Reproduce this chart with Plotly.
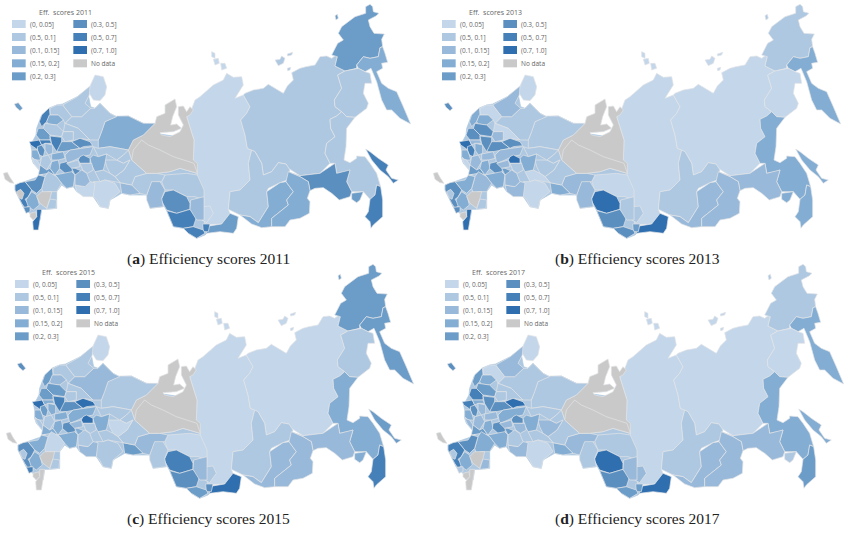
import plotly.graph_objects as go

# Score class of each region: 0..7 = legend bins, 8 = no data
BIN_LABELS = ["(0, 0.05]", "(0.5, 0.1]", "(0.1, 0.15]", "(0.15, 0.2]", "(0.2, 0.3]",
              "(0.3, 0.5]", "(0.5, 0.7]", "(0.7, 1.0]", "No data"]
BIN_COLORS = ["#c3d6ea", "#aec8e1", "#98b9d9", "#83add3", "#6c9cc8", "#5a8fc0", "#4580b9", "#2f6fb0", "#c9c9c9"]
YEARS = [2011, 2013, 2015, 2017]
PANEL_LETTERS = ["a", "b", "c", "d"]

# Outlines (map units)
OUTLINES = {
"base": [(45,555),(75,545),(105,535),(130,525),(118,510),(100,490),(95,475),(95,450),(92,435),(108,405),(110,385),(118,365),(125,345),(150,323),(170,315),(188,312),(232,290),(268,262),(265,285),(272,320),(285,325),(300,310),(330,340),(350,350),(385,348),(430,370),(465,372),(465,400),(600,420),(612,660),(630,690),(615,705),(590,715),(565,700),(550,685),(520,680),(500,632),(483,600),(490,620),(450,625),(440,585),(390,585),(365,580),(330,600),(325,625),(300,620),(280,590),(230,575),(220,560),(200,565),(185,555),(170,575),(170,625),(140,628),(125,628),(120,660),(100,660),(90,640),(70,622),(45,570)],
"krasnoyarsk": [(585,300),(600,290),(640,255),(670,240),(680,220),(700,232),(725,230),(730,255),(705,295),(730,285),(750,320),(740,340),(722,360),(735,405),(742,445),(755,450),(745,490),(750,540),(720,570),(690,575),(685,628),(690,640),(665,672),(615,674),(610,650),(612,600),(585,570),(592,520),(580,480),(582,420),(560,350),(570,340)],
"taimyr_a": [(635,155),(645,160),(645,175),(635,170)],
"taimyr_b": [(640,178),(655,175),(658,190),(645,195)],
"taimyr_c": [(662,190),(675,190),(680,205),(665,210)],
"yakutia": [(735,280),(760,270),(790,265),(805,253),(825,265),(850,280),(862,258),(880,240),(875,218),(900,205),(918,200),(945,195),(960,170),(980,168),(995,175),(1008,165),(1012,170),(1005,198),(1035,213),(1013,225),(1025,265),(1003,300),(1005,320),(1025,335),(1010,348),(990,358),(992,385),(1005,410),(980,430),(975,460),(990,490),(960,520),(900,527),(865,505),(858,492),(835,488),(815,515),(790,525),(785,490),(765,455),(742,445),(735,405),(722,360),(740,340),(750,320),(730,285)],
"sib_isl_a": [(825,180),(840,178),(845,168),(855,175),(850,190),(835,197)],
"sib_isl_b": [(862,162),(878,157),(875,165),(863,168)],
"sib_isl_c": [(862,205),(872,202),(870,210),(863,212)],
"chukotka": [(995,165),(1013,130),(1030,120),(1015,100),(1025,80),(1065,50),(1097,40),(1097,20),(1110,13),(1118,20),(1120,35),(1137,40),(1128,48),(1105,60),(1110,80),(1122,100),(1153,102),(1145,118),(1148,140),(1140,143),(1135,170),(1110,175),(1090,170),(1070,195),(1070,205),(1035,213),(1005,198),(1012,170)],
"wrangel": [(1005,47),(1012,43),(1015,55),(1008,60)],
"kamchatka": [(1070,195),(1090,170),(1110,175),(1135,170),(1140,143),(1148,140),(1155,160),(1163,187),(1145,190),(1148,205),(1130,215),(1145,250),(1165,265),(1190,275),(1210,320),(1232,372),(1200,355),(1175,330),(1160,330),(1145,300),(1130,245),(1113,205),(1095,215),(1075,205)],
"magadan": [(1035,213),(1070,205),(1075,205),(1095,215),(1110,220),(1115,250),(1095,250),(1090,280),(1105,310),(1100,325),(1080,340),(1065,352),(1040,350),(1025,335),(1005,320),(1003,300),(1025,265),(1013,225)],
"khabarovsk": [(1025,335),(1040,350),(1065,352),(1040,385),(1038,440),(1032,480),(1050,488),(1070,475),(1070,468),(1095,470),(1110,490),(1130,520),(1142,560),(1130,555),(1125,585),(1110,598),(1090,575),(1055,575),(1040,545),(1050,510),(1035,515),(1010,520),(1005,490),(990,490),(975,460),(980,430),(1005,410),(992,385),(990,358),(1010,348)],
"amur": [(865,515),(900,527),(960,520),(1005,490),(1010,520),(1035,515),(1050,510),(1040,545),(1055,575),(1050,590),(1018,600),(995,580),(970,563),(945,565),(930,572),(925,545),(900,530)],
"jewish": [(1055,580),(1090,575),(1080,600),(1070,608),(1055,598)],
"primorye": [(1110,598),(1125,585),(1130,555),(1142,560),(1148,600),(1148,650),(1120,675),(1113,685),(1110,665),(1095,650),(1105,635)],
"sakhalin": [(1097,447),(1110,455),(1135,475),(1165,495),(1158,510),(1175,535),(1195,540),(1180,550),(1165,530),(1140,510),(1115,480)],
"irkutsk": [(690,575),(720,570),(750,540),(745,490),(755,450),(765,455),(785,490),(790,525),(815,515),(835,488),(858,492),(865,505),(870,510),(862,540),(840,548),(805,565),(800,575),(805,620),(775,668),(750,650),(720,645),(685,628)],
"buryatia": [(800,575),(840,548),(858,545),(880,575),(860,600),(865,615),(815,655),(815,680),(785,683),(755,672),(720,645),(750,650),(775,668),(805,620)],
"zabaykalsky": [(858,545),(862,530),(865,515),(900,530),(925,545),(930,572),(922,595),(930,605),(928,640),(900,655),(870,660),(855,680),(815,680),(815,655),(865,615),(860,600),(880,575)],
"tuva": [(615,680),(665,672),(690,640),(715,650),(710,685),(700,700),(660,695),(620,700)],
"khakassia": [(610,620),(630,618),(640,640),(620,668),(605,660)],
"altai_rep": [(608,672),(630,672),(625,695),(610,695)],
"grey_north": [(465,370),(470,350),(495,340),(495,315),(525,297),(530,320),(518,350),(512,375),(530,372),(545,385),(520,395),(480,398),(485,405),(510,410),(540,395),(550,375),(535,345),(535,320),(550,318),(560,335),(570,320),(580,330),(570,345),(560,350),(582,420),(580,480),(592,490),(592,520),(540,505),(510,515),(470,520),(440,520),(395,480),(385,450),(400,420),(430,405)],
"kemerovo": [(495,525),(560,520),(592,525),(612,570),(612,600),(585,590),(560,590),(520,570),(495,570),(485,545)],
"novosib": [(520,570),(560,590),(570,610),(570,628),(530,640),(500,630),(483,600),(495,575)],
"altai_krai": [(500,632),(530,640),(570,628),(590,650),(580,680),(550,685),(520,680)],
"altai_south": [(550,685),(580,680),(610,690),(615,700),(590,715),(565,700)],
"krasn_south": [(572,600),(612,590),(612,660),(590,660),(570,628)],
"omsk": [(440,585),(455,540),(480,545),(495,570),(485,595),(490,620),(450,625),(440,600)],
"tyumen_s": [(395,555),(405,530),(440,520),(470,520),(495,525),(485,545),(455,545),(440,585),(420,580)],
"kurgan": [(360,548),(395,555),(420,580),(390,585),(365,580)],
"sverdlovsk": [(350,480),(370,465),(385,450),(395,480),(440,520),(405,530),(395,555),(360,548),(345,530),(372,510),(390,480),(370,490)],
"chelyabinsk": [(350,480),(370,490),(390,480),(372,510),(345,530),(330,520),(320,500),(315,480)],
"bashk_e": [(310,510),(330,520),(345,530),(360,548),(315,540),(300,545),(285,515)],
"orenburg": [(280,545),(300,545),(315,540),(345,550),(360,575),(330,600),(325,625),(300,620),(290,600),(280,590)],
"saratov": [(225,555),(255,560),(270,545),(285,548),(280,590),(250,590),(230,575)],
"komi": [(315,365),(350,348),(385,348),(430,370),(465,370),(430,405),(400,420),(385,450),(330,440),(295,445),(295,420),(305,395)],
"arkhangelsk": [(215,350),(245,350),(272,325),(285,325),(300,310),(330,340),(350,350),(315,365),(305,395),(295,420),(270,420),(235,385),(195,370)],
"kola": [(270,258),(285,225),(310,230),(320,260),(315,285),(300,302),(280,300),(265,275)],
"karelia": [(188,315),(232,290),(270,258),(268,285),(255,310),(272,325),(245,350),(215,350)],
"karelia_s": [(170,315),(188,315),(215,350),(195,370),(190,360),(175,345),(150,345),(150,325)],
"perm": [(295,445),(330,440),(385,450),(370,465),(350,480),(320,462),(295,470),(280,440)],
"kirov": [(270,475),(280,465),(295,470),(320,462),(315,490),(310,510),(285,515),(275,495)],
"vologda": [(195,370),(235,385),(270,420),(240,415),(215,425),(220,395),(190,395)],
"kaliningrad": [(43,312),(55,308),(68,325),(60,332),(48,322)],
"leningrad": [(118,365),(125,345),(148,323),(150,345),(140,365),(125,380)],
"novgorod": [(148,345),(175,345),(190,360),(170,375),(145,372),(140,365)],
"pskov": [(135,370),(170,375),(190,395),(185,410),(150,405),(130,385)],
"yaroslavl": [(190,395),(220,395),(220,420),(195,425),(185,410)],
"tver": [(115,385),(130,385),(150,405),(150,420),(120,420),(108,405)],
"smolensk": [(88,425),(118,420),(125,435),(110,447),(92,435)],
"kaluga": [(118,420),(150,420),(155,430),(135,430),(125,435)],
"moscow": [(150,408),(185,412),(185,435),(170,455),(155,432)],
"ivanovo": [(185,425),(215,425),(240,445),(210,450),(190,455),(170,455)],
"nizhny": [(215,425),(240,415),(270,425),(278,437),(250,440),(240,445)],
"chuvash": [(195,465),(210,450),(245,445),(280,440),(270,465),(245,470),(225,480),(200,490)],
"bryansk": [(112,440),(125,435),(135,450),(130,470),(118,465),(113,452)],
"orel": [(95,450),(112,450),(118,465),(122,480),(105,480),(95,470)],
"kursk": [(95,475),(110,480),(120,495),(118,510),(105,495)],
"voronezh": [(125,470),(145,465),(155,485),(140,510),(120,495)],
"belgorod": [(120,495),(140,510),(150,505),(165,525),(145,520),(115,525),(118,510)],
"tula": [(135,430),(158,435),(158,460),(145,465),(135,450)],
"ryazan": [(155,462),(190,455),(195,475),(175,480),(155,480)],
"tambov": [(155,485),(175,480),(180,505),(165,525),(150,505)],
"penza": [(180,490),(200,485),(218,505),(215,520),(195,520),(178,505)],
"mordovia": [(200,490),(235,480),(240,500),(215,505)],
"ulyanovsk": [(215,505),(225,505),(250,515),(240,525),(225,525)],
"tatarstan": [(240,470),(250,465),(270,475),(270,490),(240,490),(235,480)],
"samara": [(240,490),(275,490),(280,510),(262,520),(248,510)],
"lipetsk": [(165,525),(195,520),(215,515),(225,525),(220,560),(200,565),(180,545),(170,530)],
"bashkir": [(225,525),(245,510),(260,520),(270,545),(255,560),(225,555)],
"volgograd": [(125,565),(135,530),(145,515),(170,530),(185,550),(170,575),(145,575),(130,580)],
"rostov": [(75,545),(105,540),(115,525),(135,530),(125,565),(110,580),(95,570)],
"krasnodar": [(45,555),(60,548),(75,545),(95,570),(85,590),(75,598),(90,615),(75,625),(65,610),(55,590),(45,570)],
"adygea": [(50,575),(62,568),(72,580),(66,598),(56,592)],
"stavropol": [(78,600),(85,590),(95,575),(110,585),(118,615),(100,630),(85,620)],
"kalmykia": [(110,590),(125,575),(155,575),(150,595),(140,625),(120,610)],
"astrakhan": [(150,597),(170,600),(168,625),(140,628)],
"dagestan": [(110,628),(125,628),(120,660),(115,690),(100,690),(98,665),(110,650)],
"chechnya": [(90,640),(108,635),(110,650),(100,660),(90,650)],
"ossetia": [(70,622),(90,620),(90,635),(78,640)],
"crimea": [(10,520),(22,517),(30,532),(42,550),(30,548),(15,538)],
"khmao": [(425,420),(445,435),(480,450),(520,470),(582,490),(592,520),(540,505),(510,515),(470,520),(440,520),(395,480),(400,450)],
}

# Bin index per region, same order as OUTLINES (one row per eight regions)
SCORE_2011 = [1,
 0,0,0,0,1,1,1,1,
 4,4,3,1,1,5,4,6,
 6,1,3,3,4,0,6,8,
 1,5,6,6,2,2,1,2,
 1,1,1,0,0,3,1,0,
 1,1,1,3,1,4,6,3,
 1,1,4,7,6,6,4,5,
 2,5,3,0,1,4,2,3,
 3,5,1,5,5,1,3,2,
 1,5,6,8,3,8,1,7,
 8,5,8,8]
SCORE_2013 = [1,
 0,0,0,0,0,0,0,0,
 1,1,3,0,3,2,3,3,
 3,1,2,2,7,1,4,8,
 0,7,5,5,1,2,2,3,
 1,1,0,0,2,1,1,0,
 2,0,1,3,0,5,3,3,
 5,2,5,7,2,5,5,5,
 2,6,3,0,2,4,3,2,
 3,5,2,4,7,1,3,2,
 2,3,5,1,3,8,1,7,
 8,5,8,8]
SCORE_2015 = [1,
 0,0,0,0,0,0,0,0,
 4,4,4,1,3,2,3,6,
 4,1,2,2,7,1,5,8,
 0,6,5,4,2,1,2,4,
 1,0,1,1,2,1,2,0,
 1,1,1,3,1,5,4,2,
 4,1,4,7,3,6,5,7,
 3,4,3,1,1,3,3,3,
 3,5,2,3,7,1,3,1,
 0,3,5,1,3,8,1,8,
 8,6,8,8]
SCORE_2017 = [1,
 0,0,0,0,0,0,0,0,
 1,1,3,0,3,2,1,4,
 3,1,2,2,7,2,4,8,
 1,7,5,4,2,1,2,3,
 1,2,1,0,2,1,1,0,
 2,0,1,3,1,5,4,3,
 4,1,6,6,3,5,5,7,
 3,5,3,2,2,4,2,2,
 3,5,2,4,5,2,3,1,
 3,5,6,1,3,8,2,8,
 8,1,8,8]

ORIGINS = [(0, 0), (430, 0), (3, 260), (433, 260)]
LEGEND_ROWS = [72, 111, 150, 190, 229]
PANEL_W, PANEL_H = 420, 255
FIG_W, FIG_H = 854, 535

fig = go.Figure()
names = list(OUTLINES)
series = [SCORE_2011, SCORE_2013, SCORE_2015, SCORE_2017]
for s in series:
    assert len(s) == len(names), (len(s), len(names))
shapes, annotations = [], []

for p, (ox, oy) in enumerate(ORIGINS):
    ax = "" if p == 0 else str(p + 1)
    for i, name in enumerate(names):
        pts = OUTLINES[name] + [OUTLINES[name][0]]
        fillc = BIN_COLORS[series[p][i]]
        fig.add_trace(go.Scatter(
            x=[c[0] for c in pts], y=[c[1] for c in pts], mode="lines", fill="toself",
            fillcolor=fillc, line=dict(color=fillc if name == "base" else "#e2e4e6", width=0.7),
            hoverinfo="skip", showlegend=False, xaxis="x" + ax, yaxis="y" + ax))
    fig.layout["xaxis" + ax] = dict(domain=[ox / FIG_W, (ox + PANEL_W) / FIG_W], range=[0, PANEL_W * 3],
                                    visible=False, fixedrange=True)
    fig.layout["yaxis" + ax] = dict(domain=[1 - (oy + PANEL_H) / FIG_H, 1 - oy / FIG_H], range=[PANEL_H * 3, 0],
                                    visible=False, fixedrange=True)
    annotations.append(dict(text=f"Eff.\u00a0 scores {YEARS[p]}", x=195, y=36, xref="x" + ax, yref="y" + ax,
                            xanchor="center", showarrow=False, font=dict(family="Open Sans", size=7, color="#666")))
    for b, label in enumerate(BIN_LABELS):
        col = 0 if b < 5 else 1
        row = b if b < 5 else b - 5
        x0 = 36 if col == 0 else 220
        yc = LEGEND_ROWS[row]
        shapes.append(dict(type="rect", xref="x" + ax, yref="y" + ax, x0=x0, x1=x0 + 41, y0=yc - 12, y1=yc + 12,
                           fillcolor=BIN_COLORS[b], line=dict(width=0)))
        annotations.append(dict(text=label, x=x0 + 48, y=yc, xref="x" + ax, yref="y" + ax, xanchor="left",
                                showarrow=False, font=dict(family="Open Sans", size=6.5, color="#666")))
    cap_x = (208 if p in (0, 2) else 637) / FIG_W
    cap_y = 1 - (259 if p < 2 else 519) / FIG_H
    annotations.append(dict(text=f"(<b>{PANEL_LETTERS[p]}</b>) Efficiency scores {YEARS[p]}",
                            x=cap_x, y=cap_y, xref="paper", yref="paper", xanchor="center", yanchor="middle",
                            showarrow=False, font=dict(family="Liberation Serif", size=15.5, color="#222")))

fig.update_layout(width=FIG_W, height=FIG_H, margin=dict(l=0, r=0, t=0, b=0), paper_bgcolor="white",
                  plot_bgcolor="rgba(0,0,0,0)", shapes=shapes, annotations=annotations, showlegend=False)
fig.write_html("out.html", config={"displayModeBar": False}, post_script="document.body.style.margin='0';")
